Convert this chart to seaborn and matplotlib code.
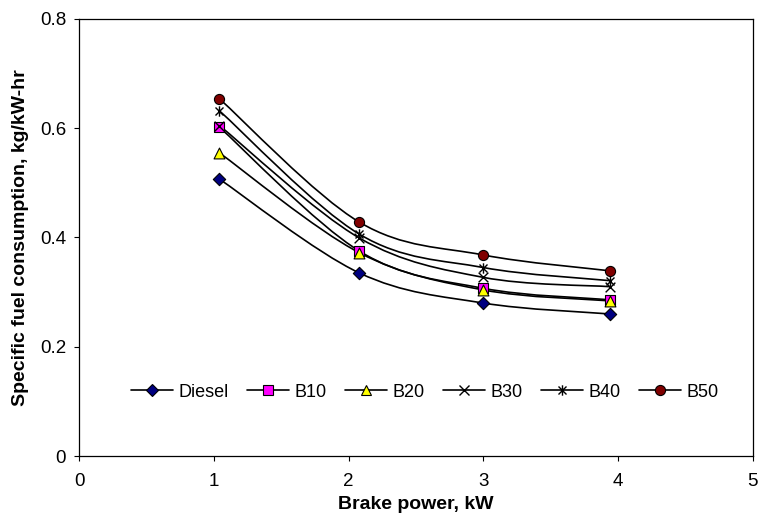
import numpy as np
import matplotlib
matplotlib.use("Agg")
import matplotlib.pyplot as plt
from matplotlib.path import Path
from matplotlib.patches import PathPatch
from matplotlib.lines import Line2D
import seaborn as sns

# data
brake_power = [1.04, 2.08, 3.00, 3.94]
diesel = [0.507, 0.335, 0.280, 0.260]
b10 = [0.602, 0.375, 0.307, 0.286]
b20 = [0.555, 0.372, 0.304, 0.284]
b30 = [0.605, 0.399, 0.327, 0.310]
b40 = [0.632, 0.406, 0.345, 0.321]
b50 = [0.654, 0.428, 0.368, 0.339]
labels = ["Diesel", "B10", "B20", "B30", "B40", "B50"]
x_ticks = [0, 1, 2, 3, 4, 5]
y_ticks = [0, 0.2, 0.4, 0.6, 0.8]

sns.set_style("white")
plt.rcParams["font.family"] = ["Liberation Sans", "DejaVu Sans"]
plt.rcParams["text.color"] = "black"
plt.rcParams["axes.labelcolor"] = "black"
plt.rcParams["xtick.color"] = "black"
plt.rcParams["ytick.color"] = "black"

# excel style asterisk: an x plus a vertical bar
star = Path([(-1, -1), (1, 1), (-1, 1), (1, -1), (0, -1.3), (0, 1.3)],
            [Path.MOVETO, Path.LINETO] * 3)

styles = [
    dict(marker="D", face="#000080", size=6.3),
    dict(marker="s", face="#FF00FF", size=6.8),
    dict(marker="^", face="#FFFF00", size=7.8),
    dict(marker="x", face="black", size=7.0),
    dict(marker=star, face="none", size=7.5),
    dict(marker="o", face="#800000", size=7.3),
]
series = [diesel, b10, b20, b30, b40, b50]


def smooth_path(xs, ys, t=1 / 6):
    # bezier through the points, like excel's smoothed line
    pts = np.column_stack([xs, ys])
    n = len(pts)
    verts = [pts[0]]
    codes = [Path.MOVETO]
    for i in range(n - 1):
        p0 = pts[max(i - 1, 0)]
        p1 = pts[i]
        p2 = pts[i + 1]
        p3 = pts[min(i + 2, n - 1)]
        verts += [p1 + (p2 - p0) * t, p2 - (p3 - p1) * t, p2]
        codes += [Path.CURVE4] * 3
    return Path(verts, codes)


fig = plt.figure(figsize=(7.58, 5.27), dpi=100)
ax = fig.add_axes([0.1046, 0.1347, 0.8884, 0.8293])

handles = []
for ys, st, lab in zip(series, styles, labels):
    ax.add_patch(PathPatch(smooth_path(brake_power, ys), facecolor="none",
                           edgecolor="black", lw=1.2, zorder=2))
    unfilled = st["marker"] == "x" or st["marker"] is star
    sns.scatterplot(x=brake_power, y=ys, ax=ax, marker=st["marker"],
                    s=st["size"] ** 2,
                    color="black" if unfilled else st["face"],
                    edgecolor="black", linewidth=1.0 if unfilled else 0.8,
                    zorder=3, legend=False)
    handles.append(Line2D([], [], color="black", lw=1.2, marker=st["marker"],
                          markersize=st["size"], markerfacecolor=st["face"],
                          markeredgecolor="black",
                          markeredgewidth=1.0 if unfilled else 0.8))

ax.set_xlim(0, 5)
ax.set_ylim(0, 0.8)
ax.set_xticks(x_ticks)
ax.set_xticklabels([str(v) for v in x_ticks])
ax.set_yticks(y_ticks)
ax.set_yticklabels(["0", "0.2", "0.4", "0.6", "0.8"])

for sp in ax.spines.values():
    sp.set_color("black")
    sp.set_linewidth(0.9)

ax.tick_params(axis="both", which="major", direction="out", length=3.5,
               width=0.8, color="black", labelsize=13.5, labelcolor="black",
               bottom=True, left=True)
ax.tick_params(axis="x", pad=9)
ax.tick_params(axis="y", pad=6)

ax.set_xlabel("Brake power, kW", fontsize=14, fontweight="bold", labelpad=4)
ax.set_ylabel("Specific fuel consumption, kg/kW-hr", fontsize=14,
              fontweight="bold", labelpad=8)

ax.legend(handles, labels, loc="center", bbox_to_anchor=(0.513, 0.146),
          ncol=6, frameon=False, fontsize=13, handlelength=2.3,
          handletextpad=0.3, columnspacing=1.05)

fig.savefig("out.png", dpi=100)
